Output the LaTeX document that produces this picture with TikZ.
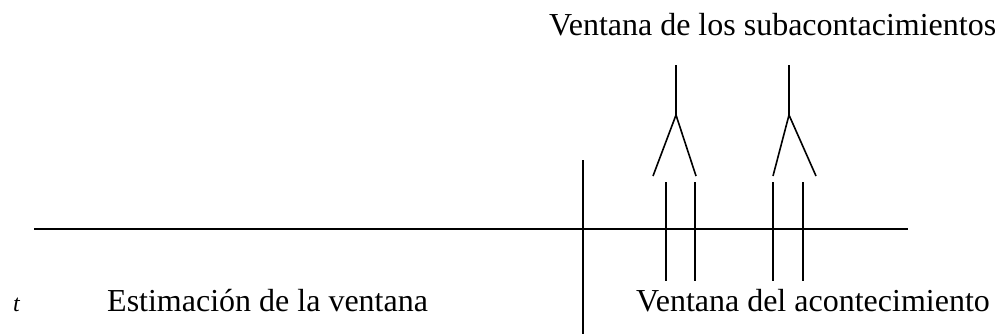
\documentclass[tikz,border=0pt]{standalone}
\usepackage{fontspec}
\setmainfont{Liberation Serif}
\begin{document}
\begin{tikzpicture}[x=1pt,y=-1pt,
  ln/.style={line width=1.6pt, black},
  lbl/.style={inner sep=0pt, anchor=base west, font=\fontsize{32}{36}\selectfont}]
\useasboundingbox (0,0) rectangle (995,335);
% axis
\coordinate (axL) at (34,229);
\coordinate (axR) at (908,229);
\draw[ln] (axL) -- (axR);
% divider
\coordinate (dT) at (583,160);
\coordinate (dB) at (583,334);
\draw[ln] (dT) -- (dB);
% short ticks
\foreach \n/\x in {a/666,b/695,c/773,d/803}{
  \coordinate (\n T) at (\x,182);
  \coordinate (\n B) at (\x,281);
  \draw[ln] (\n T) -- (\n B);
}
% forks
\foreach \n/\s/\l/\r in {f/676/653/696, g/789/773/816}{
  \coordinate (\n top) at (\s,65);
  \coordinate (\n mid) at (\s,115);
  \coordinate (\n L) at (\l,176);
  \coordinate (\n R) at (\r,176);
  \draw[ln] (\n top) -- (\n mid);
  \draw[ln] (\n L) -- (\n mid) -- (\n R);
}
% labels
\node[lbl, font=\fontsize{24}{28}\selectfont\itshape] (t) at (13,311) {t};
\node[lbl] (est) at (107,311) {Estimación de la ventana};
\node[lbl] (acon) at (636,311) {Ventana del acontecimiento};
\node[lbl] (sub) at (549,35) {Ventana de los subacontacimientos};
\end{tikzpicture}
\end{document}
